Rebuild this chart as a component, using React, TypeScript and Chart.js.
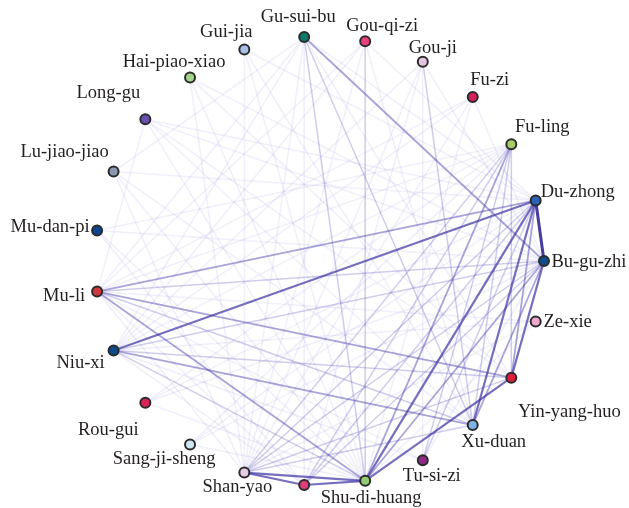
import React, { useEffect, useRef } from "react";
import { Chart, registerables } from "chart.js";

Chart.register(...registerables);

// Herbs, in clockwise order starting at the top of the circle
const herbs = [
  "Gu-sui-bu", "Gou-qi-zi", "Gou-ji", "Fu-zi", "Fu-ling", "Du-zhong",
  "Bu-gu-zhi", "Ze-xie", "Yin-yang-huo", "Xu-duan", "Tu-si-zi", "Shu-di-huang",
  "Shan-zhu-yu", "Shan-yao", "Sang-ji-sheng", "Rou-gui", "Niu-xi", "Mu-li",
  "Mu-dan-pi", "Lu-jiao-jiao", "Long-gu", "Hai-piao-xiao", "Gui-jia",
];
// Labels actually visible in the figure (Shan-zhu-yu's label is hidden)
const hiddenLabels = ["Shan-zhu-yu"];

// Co-occurrence edges (index pairs) and their strength 1..5
const edgeFrom = [
  5, 5, 11, 11, 12, 5, 6, 11, 11, 11, 6, 0, 5, 17, 17, 17, 16, 11,
  0, 13, 13, 17, 16, 16, 4, 4, 4, 4, 4, 5, 6, 5, 8, 9, 0, 17, 16, 1, 2,
  20, 20, 20, 20, 20, 20, 19, 19, 19, 19, 18, 18, 18, 18, 21, 21, 21, 21,
  22, 22, 22, 22, 1, 1, 1, 1, 1, 2, 2, 2, 2, 2, 3, 3, 3, 3, 3,
  15, 15, 15, 15, 14, 14, 14, 14, 10, 10, 10, 7, 7, 7, 7,
  0, 0, 0, 0, 0, 0, 0, 17, 16, 17, 16, 17,
];
const edgeTo = [
  6, 16, 13, 12, 13, 9, 8, 5, 8, 6, 9, 6, 8, 5, 8, 11, 9, 4,
  11, 5, 6, 6, 8, 11, 9, 8, 13, 12, 10, 12, 12, 10, 13, 13, 9, 9, 6, 11, 9,
  5, 6, 11, 9, 17, 8, 13, 5, 11, 9, 4, 11, 12, 6, 11, 8, 6, 13,
  9, 13, 11, 5, 5, 13, 17, 16, 9, 13, 6, 10, 16, 12, 11, 6, 17, 13, 16,
  5, 4, 6, 11, 5, 4, 6, 11, 17, 16, 6, 13, 17, 16, 11,
  17, 16, 13, 8, 5, 12, 19, 4, 4, 12, 12, 13,
];
const edgeWeight = [
  5, 4, 4, 4, 4, 4, 4, 4, 4, 3, 3, 3, 3, 3, 3, 3, 3, 3,
  2, 2, 2, 2, 2, 2, 2, 2, 2, 2, 2, 2, 2, 2, 2, 2, 2, 2, 2, 2, 2,
  1, 1, 1, 1, 1, 1, 1, 1, 1, 1, 1, 1, 1, 1, 1, 1, 1, 1,
  1, 1, 1, 1, 1, 1, 1, 1, 1, 1, 1, 1, 1, 1, 1, 1, 1, 1, 1,
  1, 1, 1, 1, 1, 1, 1, 1, 1, 1, 1, 1, 1, 1, 1,
  1, 1, 1, 1, 1, 1, 1, 1, 1, 1, 1, 1,
];

// ---- styling (not data) ----
const nodeColors = [
  "#0b7a6b", "#e8407f", "#e6c3e3", "#d5225e", "#a8cc6a", "#2a62b8",
  "#0f4d8a", "#f0a8cc", "#e01e3c", "#7fb0e6", "#8e2a86", "#92cc74",
  "#e33c78", "#e8cde6", "#cde8f6", "#d82458", "#0d4a8a", "#d0383e",
  "#0d4590", "#8898b0", "#6a50b0", "#a4d48a", "#a8c0e8",
];
// label offsets from node centre, in pixels
const labelDx = [-6, 17, 10, 17, 31, 42, 45, 32, 58, 21, 9, 6, 0, -7, -26, -37, -33, -33, -47, -49, -37, -16, -18];
const labelDy = [-20, -15, -14, -17, -17, -8, 1, 1, 34, 17, 16, 17, 0, 15, 15, 27, 13, 5, -3, -19, -26, -15, -17];

const edgeStyle: Record<number, { c: string; w: number }> = {
  5: { c: "rgba(55,45,150,0.92)", w: 3 },
  4: { c: "rgba(65,55,165,0.72)", w: 2.2 },
  3: { c: "rgba(75,65,175,0.48)", w: 1.8 },
  2: { c: "rgba(85,75,185,0.28)", w: 1.5 },
  1: { c: "rgba(110,100,205,0.10)", w: 1.5 },
};

const W = 629;
const H = 508;
const CX = 319.5;
const CY = 261;
const R = 224.5;

export default function App() {
  const ref = useRef<HTMLCanvasElement | null>(null);

  useEffect(() => {
    if (!ref.current) return;
    const n = herbs.length;
    const startDeg = 90 - 6 * (360 / n); // layout rotation
    const pos = herbs.map((_, i) => {
      const a = ((startDeg + i * (360 / n)) * Math.PI) / 180;
      return { x: Math.sin(a), y: Math.cos(a) };
    });

    const edgeSets = edgeFrom.map((s, k) => {
      const t = edgeTo[k];
      const st = edgeStyle[edgeWeight[k]];
      return {
        data: [pos[s], pos[t]],
        showLine: true,
        borderColor: st.c,
        borderWidth: st.w,
        pointRadius: 0,
        pointHoverRadius: 0,
        order: 10 - edgeWeight[k],
      };
    });

    const nodeSet = {
      data: pos,
      showLine: false,
      pointRadius: 5,
      pointBorderWidth: 2,
      pointBackgroundColor: nodeColors,
      pointBorderColor: "#2b2b2b",
      order: 0,
    };

    const labelPlugin = {
      id: "herbLabels",
      afterDatasetsDraw(chart: any) {
        const ctx = chart.ctx;
        const xs = chart.scales.x;
        const ys = chart.scales.y;
        ctx.save();
        ctx.font = '18.5px "Liberation Serif", "DejaVu Serif", serif';
        ctx.fillStyle = "#231f20";
        ctx.textAlign = "center";
        ctx.textBaseline = "middle";
        herbs.forEach((name, i) => {
          if (hiddenLabels.includes(name)) return;
          const px = xs.getPixelForValue(pos[i].x) + labelDx[i];
          const py = ys.getPixelForValue(pos[i].y) + labelDy[i];
          ctx.fillText(name, px, py);
        });
        ctx.restore();
      },
    };

    const chart = new Chart(ref.current, {
      type: "scatter",
      data: { datasets: [nodeSet as any, ...(edgeSets as any[])] },
      options: {
        responsive: false,
        animation: false,
        events: [],
        layout: { padding: 0, autoPadding: false },
        plugins: { legend: { display: false }, tooltip: { enabled: false } },
        scales: {
          x: { type: "linear", display: false, min: -CX / R, max: (W - CX) / R },
          y: { type: "linear", display: false, min: -(H - CY) / R, max: CY / R },
        },
      },
      plugins: [labelPlugin],
    });
    return () => chart.destroy();
  }, []);

  return (
    <div style={{ position: "absolute", left: 0, top: 0, width: W, height: H, background: "#fff" }}>
      <canvas ref={ref} width={W} height={H} style={{ width: W, height: H }} />
    </div>
  );
}
